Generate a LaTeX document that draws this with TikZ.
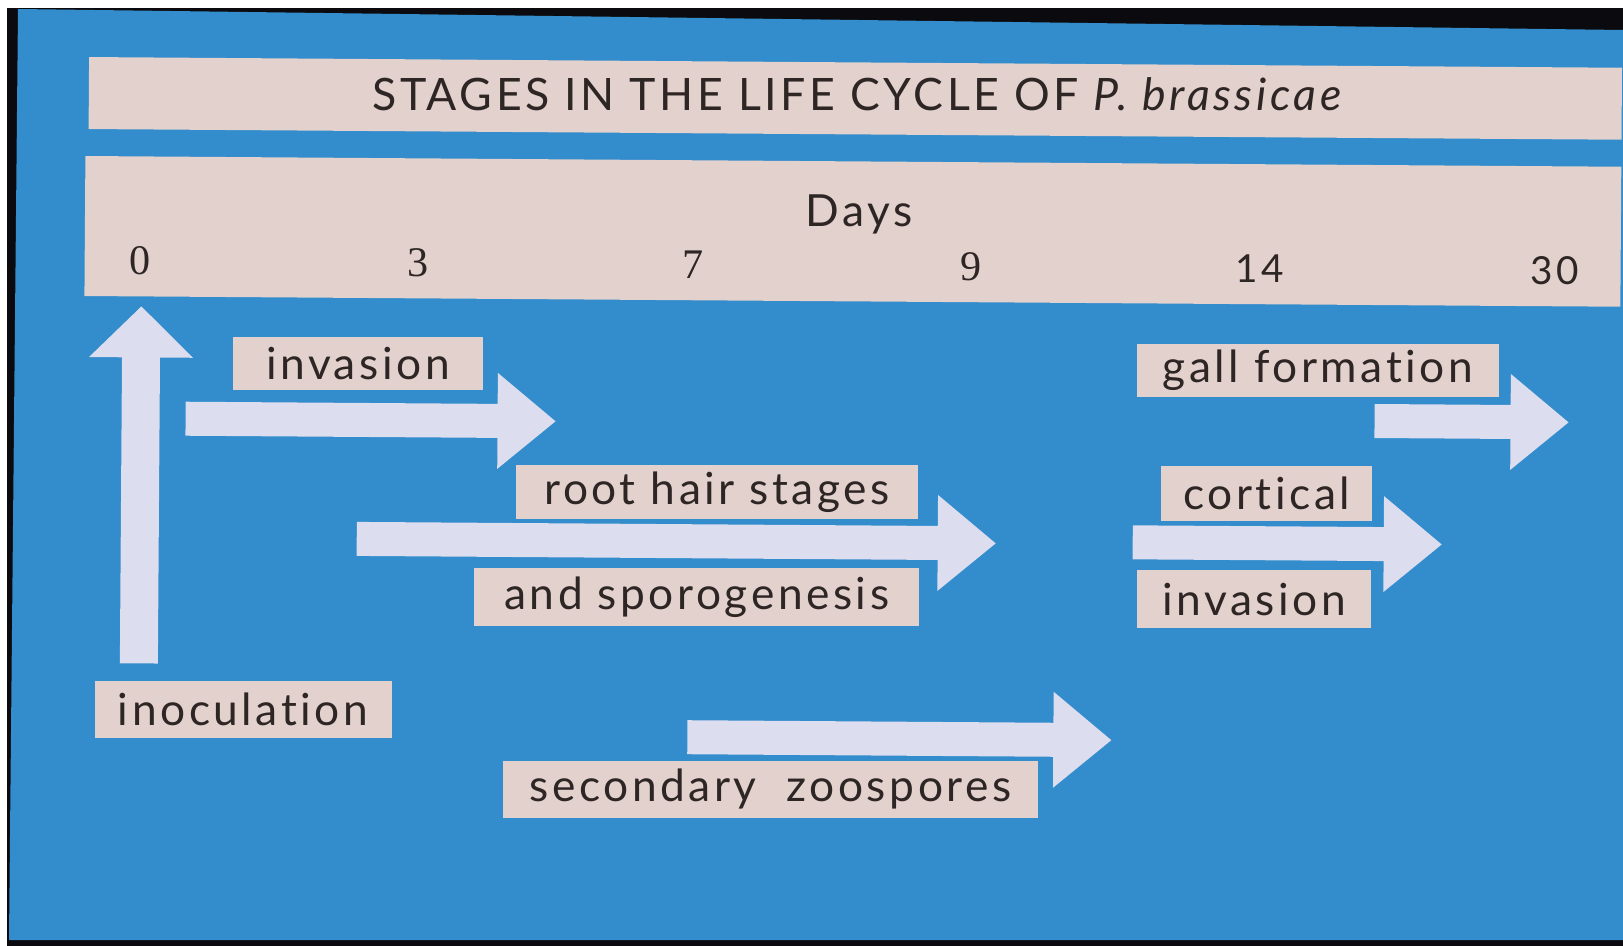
\documentclass[tikz,border=0pt]{standalone}
\usepackage{fontspec}
\usetikzlibrary{positioning}
\newfontfamily\slidefont[LetterSpace=8, Ligatures=NoCommon]{Lato}
\newfontfamily\numfont{Liberation Serif}
\definecolor{slBlue}{HTML}{338CCB}
\definecolor{slCream}{HTML}{E2D1CD}
\definecolor{slArrow}{HTML}{DCDDEE}
\definecolor{slInk}{HTML}{2E2624}
\definecolor{slFrame}{HTML}{0B0B0F}
\tikzset{
  band/.style={fill=slCream},
  stagelabel/.style={rectangle, fill=slCream, inner sep=0pt, text=slInk,
    font=\slidefont\fontsize{12.6}{15}\selectfont},
  daylabel/.style={text=slInk, inner sep=0pt, anchor=base},
  arrowfill/.style={fill=slArrow}
}
% block arrow: start x, tip x, centre y
\newcommand{\stagearrow}[3]{%
  \fill[arrowfill] (#1,#3-17) -- (#2-58,#3-17) -- (#2-58,#3-48) -- (#2,#3)
    -- (#2-58,#3+48) -- (#2-58,#3+17) -- (#1,#3+17) -- cycle;}

\begin{document}
\begin{tikzpicture}[x=0.1mm, y=-0.1mm]
  \useasboundingbox (0,0) rectangle (1623,946);
  % slide in its frame
  \fill[white] (0,0) rectangle (1623,946);
  \fill[slFrame] (7,8) rectangle (1623,946);
  \fill[slBlue] (18,9) -- (1623,30) -- (1623,940) -- (9,940) -- cycle;
  \begin{scope}
    \clip (18,9) -- (1623,30) -- (1623,940) -- (9,940) -- cycle;
    \begin{scope}[rotate around={-0.4:(800,500)}]
      % header bands
      \fill[band] (86,62) rectangle (1619,134);
      \fill[band] (83,161) rectangle (1619,301);
      \node[daylabel, font=\slidefont\fontsize{12.7}{14}\selectfont] (title) at (856,110)
        {STAGES IN THE LIFE CYCLE OF \textit{P. brassicae}};
      \node[daylabel, font=\slidefont\fontsize{12.6}{15}\selectfont] (days) at (857,226) {Days};
      \foreach \x/\d/\f/\s in {138/0/\numfont/12, 416/3/\numfont/12, 691/7/\numfont/12,
          970/9/\numfont/12, 1258/14/\slidefont/11, 1553/30/\slidefont/11}
        \node[daylabel, font=\f\fontsize{\s}{14}\selectfont] (d\d) at (\x,279) {\d};

      % arrows
      \fill[arrowfill] (121,668) -- (121,362) -- (88,362) -- (140,311) -- (192,362)
        -- (159,362) -- (159,668) -- cycle;
      \stagearrow{185}{555}{423}
      \stagearrow{357}{996}{542}
      \stagearrow{1374}{1568}{417}
      \stagearrow{1133}{1442}{540}
      \stagearrow{689}{1113}{738}

      % stage labels
      \node[stagelabel, minimum width=29.7mm, minimum height=5.7mm] (inoc) at (244.5,713) {inoculation};
      \node[stagelabel, minimum width=25mm, minimum height=5.3mm] (inv) at (357,366.5) {invasion};
      \node[stagelabel, minimum width=40.2mm, minimum height=5.4mm] (hair) at (717,493) {root hair stages};
      \node[stagelabel, minimum width=44.5mm, minimum height=5.8mm] (spor) at (697.5,598) {and sporogenesis};
      \node[stagelabel, minimum width=36.2mm, minimum height=5.3mm] (gall) at (1317,366.5) {gall formation};
      \node[stagelabel, minimum width=21.1mm, minimum height=5.5mm] (cort) at (1266.5,490.5) {cortical};
      \node[stagelabel, minimum width=23.4mm, minimum height=5.8mm] (cinv) at (1255,596) {invasion};
      \node[stagelabel, minimum width=53.5mm, minimum height=5.7mm] (zoo) at (772.5,789.5) {secondary\ \ zoospores};
    \end{scope}
  \end{scope}
\end{tikzpicture}
\end{document}
